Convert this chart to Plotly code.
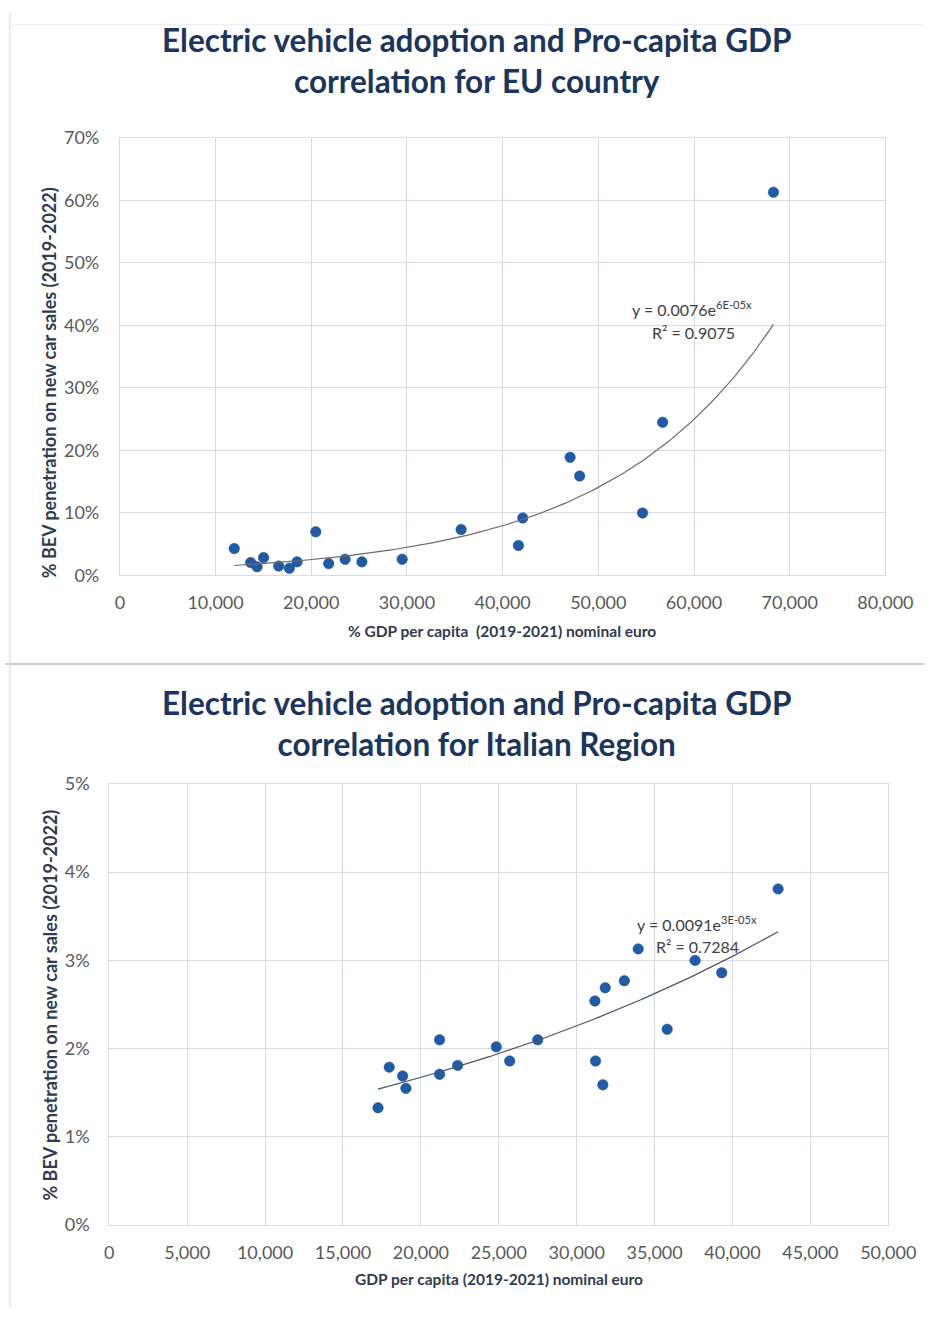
import numpy as np
import plotly.graph_objects as go

# ---------------- data ----------------
eu_gdp = [11950, 13670, 14340, 15020, 16600, 17710, 18520, 20470, 21820, 23540,
          25290, 29500, 35660, 41650, 42100, 47050, 48050, 54620, 56720, 68300]
eu_bev_pct = [4.3, 2.06, 1.4, 2.86, 1.5, 1.16, 2.17, 6.98, 1.9, 2.6,
              2.17, 2.6, 7.35, 4.8, 9.2, 18.9, 15.9, 10.0, 24.5, 61.3]

it_gdp = [17250, 17970, 18830, 19040, 21200, 21200, 22360, 24840, 25700, 27500,
          31170, 31210, 31680, 31830, 33060, 33950, 35810, 37600, 39310, 42930]
it_bev_pct = [1.33, 1.79, 1.69, 1.55, 2.10, 1.71, 1.81, 2.02, 1.86, 2.10,
              2.54, 1.86, 1.59, 2.69, 2.77, 3.13, 2.22, 3.00, 2.86, 3.81]

title_top = "Electric vehicle adoption and Pro-capita GDP<br>correlation for EU country"
title_bot = "Electric vehicle adoption and Pro-capita GDP<br>correlation for Italian Region"
xtitle_top = "% GDP per capita  (2019-2021) nominal euro"
xtitle_bot = "GDP per capita (2019-2021) nominal euro"
ytitle = "% BEV penetration on new car sales (2019-2022)"
eq_top = ["y = 0.0076e<sup>6E-05x</sup>", "R\u00b2 = 0.9075"]
eq_bot = ["y = 0.0091e<sup>3E-05x</sup>", "R\u00b2 = 0.7284"]

W, H = 952, 1318
def px(x):
    return x / W
def py(y):
    return 1 - y / H

def exp_fit(x, yp):
    x = np.asarray(x, float)
    y = np.asarray(yp, float) / 100.0
    b, lna = np.polyfit(x, np.log(y), 1)
    xs = np.linspace(x.min(), x.max(), 200)
    return xs, np.exp(lna) * np.exp(b * xs)

MARK = "#1f5ba6"
GRID = "#d6dbe1"
TICK = "#595959"
TITLE = "#1b365d"
AXT = "#2f3b4e"
FONT = "Lato"

fig = go.Figure()
fig.add_trace(go.Scatter(x=eu_gdp, y=np.array(eu_bev_pct) / 100, mode="markers",
                         marker=dict(color=MARK, size=10.5, line=dict(color="#174a8a", width=0.5)),
                         xaxis="x", yaxis="y", showlegend=False))
xs, ys = exp_fit(eu_gdp, eu_bev_pct)
fig.add_trace(go.Scatter(x=xs, y=ys, mode="lines", line=dict(color="#6b6b6b", width=1.2),
                         xaxis="x", yaxis="y", showlegend=False))
fig.add_trace(go.Scatter(x=it_gdp, y=np.array(it_bev_pct) / 100, mode="markers",
                         marker=dict(color=MARK, size=10.5, line=dict(color="#174a8a", width=0.5)),
                         xaxis="x2", yaxis="y2", showlegend=False))
xs2, ys2 = exp_fit(it_gdp, it_bev_pct)
fig.add_trace(go.Scatter(x=xs2, y=ys2, mode="lines", line=dict(color="#4a5568", width=1.2),
                         xaxis="x2", yaxis="y2", showlegend=False))

axis_common = dict(showgrid=True, gridcolor=GRID, gridwidth=1, zeroline=False,
                   showline=True, mirror=True, linecolor=GRID, linewidth=1,
                   ticks="", tickfont=dict(family=FONT, size=18, color=TICK))

fig.update_layout(
    width=W, height=H, margin=dict(l=0, r=0, t=0, b=0),
    paper_bgcolor="white", plot_bgcolor="white",
    xaxis=dict(domain=[px(119), px(912)], anchor="y", range=[0, 80000], dtick=10000,
               tickformat=",d", ticklabelstandoff=11, **axis_common),
    yaxis=dict(domain=[py(573), py(128)], anchor="x", range=[0, 0.7], dtick=0.1,
               tickformat=".0%", ticklabelstandoff=16, **axis_common),
    xaxis2=dict(domain=[px(108), px(915)], anchor="y2", range=[0, 50000], dtick=5000,
                tickformat=",d", ticklabelstandoff=11, **axis_common),
    yaxis2=dict(domain=[py(1233.7), py(785)], anchor="x2", range=[0, 0.05], dtick=0.01,
                tickformat=".0%", ticklabelstandoff=15, **axis_common),
)

ann = []
def A(text, x, y, size, color, bold=False, angle=0):
    t = f"<b>{text}</b>" if bold else text
    ann.append(dict(text=t, x=px(x), y=py(y), xref="paper", yref="paper",
                    xanchor="center", yanchor="middle", showarrow=False, textangle=angle,
                    font=dict(family=FONT, size=size, color=color)))

A(title_top, 488, 49, 31.5, TITLE, bold=True)
A(title_bot, 488, 724, 31.5, TITLE, bold=True)
A(xtitle_top, 515, 629, 15.5, AXT, bold=True)
A(xtitle_bot, 512, 1289, 15.5, AXT, bold=True)
A(ytitle, 45, 377, 18, AXT, bold=True, angle=-90)
A(ytitle, 47, 1010, 18, AXT, bold=True, angle=-90)
A(eq_top[0], 712, 302, 16, "#404040")
A(eq_top[1], 713, 326, 16, "#404040")
A(eq_bot[0], 717, 927, 16, "#404040")
A(eq_bot[1], 717, 950, 16, "#404040")
fig.update_layout(annotations=ann)

fig.update_layout(shapes=[
    dict(type="line", xref="paper", yref="paper", x0=0, x1=1, y0=py(663), y1=py(663),
         line=dict(color="#c8cfd8", width=2)),
    dict(type="line", xref="paper", yref="paper", x0=px(5), x1=px(5), y0=0, y1=1,
         line=dict(color="#dfe5ec", width=1.5)),
    dict(type="line", xref="paper", yref="paper", x0=px(5), x1=1, y0=py(13), y1=py(13),
         line=dict(color="#eef1f4", width=1.5)),
])

fig.write_html("out.html")
